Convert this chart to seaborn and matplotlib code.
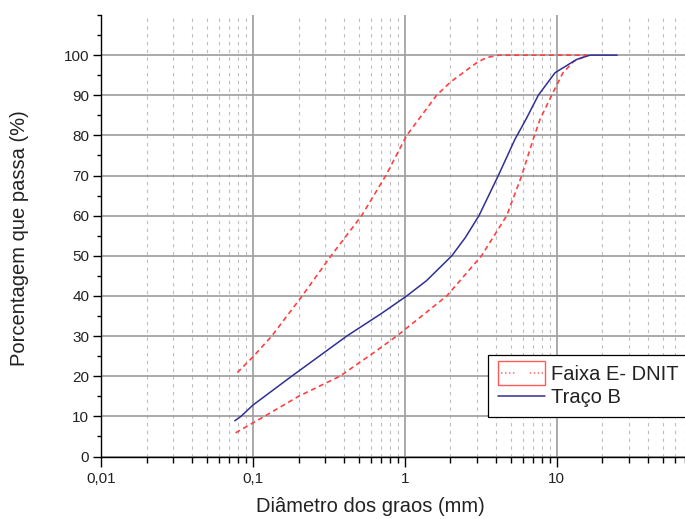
import numpy as np
import pandas as pd
import seaborn as sns
import matplotlib
matplotlib.use("Agg")
import matplotlib.pyplot as plt
from matplotlib.ticker import LogLocator, NullFormatter, FixedLocator
from matplotlib.lines import Line2D
from matplotlib.patches import Rectangle
from matplotlib.legend_handler import HandlerBase

# Faixa E - DNIT, limite superior (diâmetro em mm, % que passa)
sup_diam = [0.079, 0.1, 0.133, 0.211, 0.327, 0.52, 0.75, 1.03, 1.62, 2.0, 2.69, 3.0, 3.46, 4.2, 16.0]
sup_pass = [20.9, 24.8, 30.0, 40.0, 50.0, 60.0, 70.0, 80.0, 90.0, 93.3, 96.9, 98.2, 99.4, 100.0, 100.0]

# Faixa E - DNIT, limite inferior
inf_diam = [0.077, 0.119, 0.2, 0.374, 0.6, 0.885, 1.89, 3.2, 4.69, 5.89, 7.0, 7.77, 9.27, 11.0, 13.0, 16.0]
inf_pass = [5.9, 10.0, 15.0, 20.0, 25.4, 30.0, 40.0, 50.0, 60.0, 70.0, 79.0, 84.0, 90.0, 95.6, 98.5, 100.0]

# Traço B
tb_diam = [0.076, 0.0835, 0.1, 0.18, 0.415, 0.7, 1.03, 1.39, 2.04, 2.5, 3.08, 4.13, 5.31, 6.28, 7.57, 9.75, 13.5, 16.6, 25.0]
tb_pass = [8.9, 10.0, 12.8, 20.0, 30.0, 35.6, 40.0, 43.8, 50.0, 54.5, 60.0, 70.0, 79.0, 84.0, 90.0, 95.6, 98.9, 100.0, 100.0]

x_ticks = [0.01, 0.1, 1, 10]
x_tick_labels = ["0,01", "0,1", "1", "10"]
y_ticks = list(range(0, 101, 10))

sns.set_style("ticks")
plt.rcParams["font.family"] = ["Liberation Sans", "DejaVu Sans"]

RED = "#ff4040"
BLUE = "#2f2f96"

fig = plt.figure(figsize=(6.85, 5.19), dpi=100)
ax = fig.add_axes([101 / 685, 62.5 / 519, 584 / 685, 441.5 / 519])

sup = pd.DataFrame({"diam": sup_diam, "passa": sup_pass})
inf = pd.DataFrame({"diam": inf_diam, "passa": inf_pass})
tb = pd.DataFrame({"diam": tb_diam, "passa": tb_pass})

dash = (0, (3.0, 2.2))
sns.lineplot(data=sup, x="diam", y="passa", ax=ax, color=RED, lw=1.2,
             linestyle=dash, estimator=None, legend=False)
sns.lineplot(data=inf, x="diam", y="passa", ax=ax, color=RED, lw=1.2,
             linestyle=dash, estimator=None, legend=False)
sns.lineplot(data=tb, x="diam", y="passa", ax=ax, color=BLUE, lw=1.1,
             estimator=None, legend=False)

ax.set_xscale("log")
ax.set_xticks(x_ticks, labels=x_tick_labels)
ax.xaxis.set_minor_locator(LogLocator(base=10, subs=np.arange(2, 10), numticks=20))
ax.xaxis.set_minor_formatter(NullFormatter())
ax.set_yticks(y_ticks)
ax.yaxis.set_minor_locator(FixedLocator([5, 15, 25, 35, 45, 55, 65, 75, 85, 95, 105, 110]))
ax.set_xlim(0.01, 70.0)
ax.set_ylim(0, 110)

ax.set_axisbelow(True)
ax.grid(which="major", axis="both", color="#9c9c9c", lw=1.2, ls="-")
ax.grid(which="minor", axis="x", color="#bdbdbd", lw=0.8, ls=(0, (3, 4)))

for side in ("top", "right"):
    ax.spines[side].set_visible(False)
for side in ("left", "bottom"):
    ax.spines[side].set_color("black")
    ax.spines[side].set_linewidth(1.0)

ax.tick_params(axis="x", which="major", direction="out", length=7.5, width=1.0,
               labelsize=11, pad=4, colors="black", labelcolor="#222222")
ax.tick_params(axis="x", which="minor", direction="out", length=4, width=1.0, colors="black")
ax.tick_params(axis="y", which="major", direction="out", length=5.5, width=1.0,
               labelsize=11, pad=3, colors="black", labelcolor="#222222")
ax.tick_params(axis="y", which="minor", direction="out", length=3, width=1.0, colors="black")

ax.set_xlabel("Diâmetro dos graos (mm)", fontsize=14.5, color="#222222")
ax.set_ylabel("Porcentagem que passa (%)", fontsize=14.5, color="#222222")
ax.xaxis.set_label_coords((370 - 101) / 584, (456.5 - 507) / 441.5)
ax.xaxis.label.set_va("center")
ax.yaxis.set_label_coords((20 - 101) / 584, (456.5 - 238) / 441.5)
ax.yaxis.label.set_va("center")


class BoxedDotsHandler(HandlerBase):
    """Legend key: dotted red line inside a red box."""

    def create_artists(self, legend, orig_handle, xdescent, ydescent,
                       width, height, fontsize, trans):
        extra = 3.4
        rect = Rectangle((-xdescent, -ydescent - extra), width, height + 2 * extra,
                         facecolor="none", edgecolor="#ff5a5a", lw=1.0, transform=trans)
        yc = -ydescent + height / 2
        line = Line2D([-xdescent + 2, -xdescent + width - 2], [yc, yc],
                      color="#ff6a6a", lw=1.1,
                      linestyle=(0, (1, 1.6, 1, 1.6, 1, 1.6, 1, 10, 1, 1.6, 1, 1.6, 1, 1.6, 1, 1.6, 1, 1.6)),
                      transform=trans)
        return [rect, line]


faixa_key = Line2D([], [], color=RED)
traco_key = Line2D([], [], color=BLUE, lw=1.1)
leg = ax.legend([faixa_key, traco_key], ["Faixa E- DNIT", "Traço B"],
                handler_map={faixa_key: BoxedDotsHandler()},
                loc="upper left",
                bbox_to_anchor=((488 - 101) / 584, (456.5 - 355) / 441.5),
                borderaxespad=0, borderpad=0.5, handlelength=2.35,
                handletextpad=0.3, labelspacing=0.18, fontsize=14.5,
                frameon=True, fancybox=False, framealpha=1.0,
                edgecolor="black", facecolor="white")
leg.get_frame().set_linewidth(0.9)
for t in leg.get_texts():
    t.set_color("#222222")

fig.savefig("out.png", dpi=100)
